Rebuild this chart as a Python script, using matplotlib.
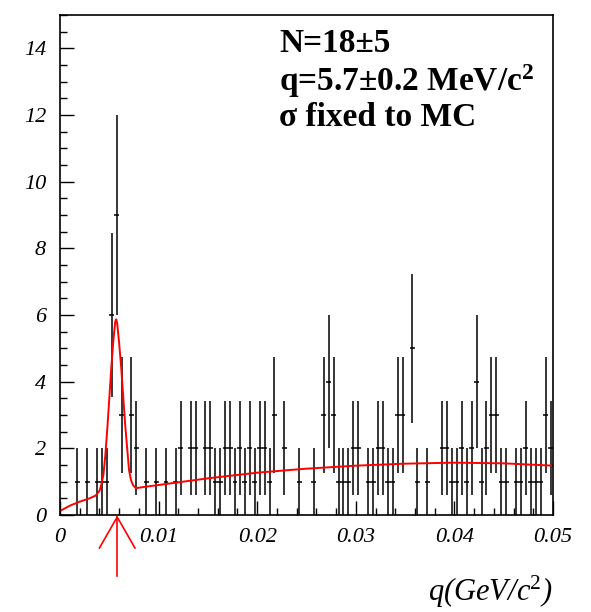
import matplotlib
matplotlib.use("Agg")
import matplotlib.pyplot as plt
import numpy as np
from matplotlib.ticker import MultipleLocator, FixedLocator

plt.rcParams["mathtext.fontset"] = "custom"
plt.rcParams["mathtext.rm"] = "Liberation Serif"
plt.rcParams["mathtext.it"] = "Liberation Serif:italic"
plt.rcParams["mathtext.bf"] = "Liberation Serif:bold"

# histogram: 100 bins on 0..0.05 GeV/c^2, counts
bin_edges = np.linspace(0.0, 0.05, 101)
counts = [
    0, 0, 0, 1, 0, 1, 0, 1, 1, 1,
    6, 9, 3, 0, 3, 2, 0, 1, 0, 1,
    0, 1, 0, 1, 2, 0, 2, 2, 0, 2,
    2, 1, 1, 2, 2, 1, 2, 1, 2, 1,
    2, 2, 1, 3, 0, 2, 0, 0, 1, 0,
    0, 1, 0, 3, 4, 3, 1, 1, 1, 2,
    2, 0, 1, 1, 2, 2, 1, 1, 3, 3,
    0, 5, 1, 0, 1, 0, 0, 2, 2, 1,
    1, 2, 1, 2, 4, 1, 2, 3, 3, 1,
    1, 0, 1, 1, 2, 1, 1, 1, 3, 2,
]

# fitted curve (signal peak + background)
fit_x = [0.0000, 0.0010, 0.0020, 0.0030, 0.0036, 0.0040, 0.0042, 0.0044,
         0.0046, 0.0048, 0.0050, 0.0052, 0.0054, 0.0056, 0.0057, 0.0058,
         0.0060, 0.0062, 0.0064, 0.0066, 0.0068, 0.0070, 0.0072, 0.0074,
         0.0076, 0.0078, 0.0085, 0.0100, 0.0150, 0.0200, 0.0250, 0.0300,
         0.0350, 0.0400, 0.0450, 0.0500]
fit_y = [0.12, 0.28, 0.40, 0.50, 0.58, 0.72, 0.92, 1.20,
         1.80, 2.60, 3.50, 4.40, 5.20, 5.80, 5.87, 5.75,
         5.15, 4.45, 3.60, 2.75, 2.05, 1.35, 1.05, 0.90,
         0.83, 0.81, 0.84, 0.90, 1.10, 1.27, 1.39, 1.48,
         1.54, 1.57, 1.55, 1.48]

q_arrow = 0.0058
fit_text = ["N=18±5", "q=5.7±0.2 MeV/c$^{\\mathbf{2}}$", "σ fixed to MC"]

counts = np.array(counts, dtype=float)
centers = 0.5 * (bin_edges[:-1] + bin_edges[1:])
half_w = 0.5 * (bin_edges[1] - bin_edges[0])
nz = counts > 0

fig = plt.figure(figsize=(5.91, 6.12), dpi=100)
ax = fig.add_axes([60 / 591, 97 / 612, 493 / 591, 500 / 612])

ax.errorbar(centers[nz], counts[nz], xerr=half_w, yerr=np.sqrt(counts[nz]),
            fmt="none", ecolor="black", elinewidth=1.1, capsize=0)
ax.plot(fit_x, fit_y, color="red", lw=1.4)

ax.set_xlim(0, 0.05)
ax.set_ylim(0, 15)

ax.xaxis.set_major_locator(FixedLocator([0, 0.01, 0.02, 0.03, 0.04, 0.05]))
ax.xaxis.set_minor_locator(MultipleLocator(0.002))
ax.yaxis.set_major_locator(MultipleLocator(2))
ax.yaxis.set_minor_locator(MultipleLocator(0.5))
ax.set_xticklabels(["0", "0.01", "0.02", "0.03", "0.04", "0.05"])
ax.tick_params(which="both", direction="in", top=False, right=False, width=1)
ax.tick_params(which="major", length=10)
ax.tick_params(which="minor", length=5)
ax.tick_params(axis="x", pad=9)
ax.tick_params(axis="y", pad=10)
for lab in ax.get_xticklabels() + ax.get_yticklabels():
    lab.set_family("Liberation Serif")
    lab.set_style("italic")
    lab.set_fontsize(16)
for sp in ax.spines.values():
    sp.set_linewidth(1.2)

ax.text(1.0, -0.118, "q(GeV/c$^{\\mathit{2}}$)", transform=ax.transAxes,
        ha="right", va="top", family="Liberation Serif", style="italic",
        fontsize=22)

ax.text(0.445, 0.973, "\n".join(fit_text), transform=ax.transAxes,
        ha="left", va="top", family="Liberation Serif", weight="bold",
        fontsize=24, linespacing=1.1)

# red arrow marking the fitted peak position
trans = ax.get_xaxis_transform()
head = 0.0018
ax.plot([q_arrow, q_arrow], [-0.004, -0.122], color="red", lw=1.2,
        transform=trans, clip_on=False)
ax.plot([q_arrow - head, q_arrow, q_arrow + head], [-0.066, -0.004, -0.066],
        color="red", lw=1.2, transform=trans, clip_on=False)

fig.savefig("out.png", dpi=100)
